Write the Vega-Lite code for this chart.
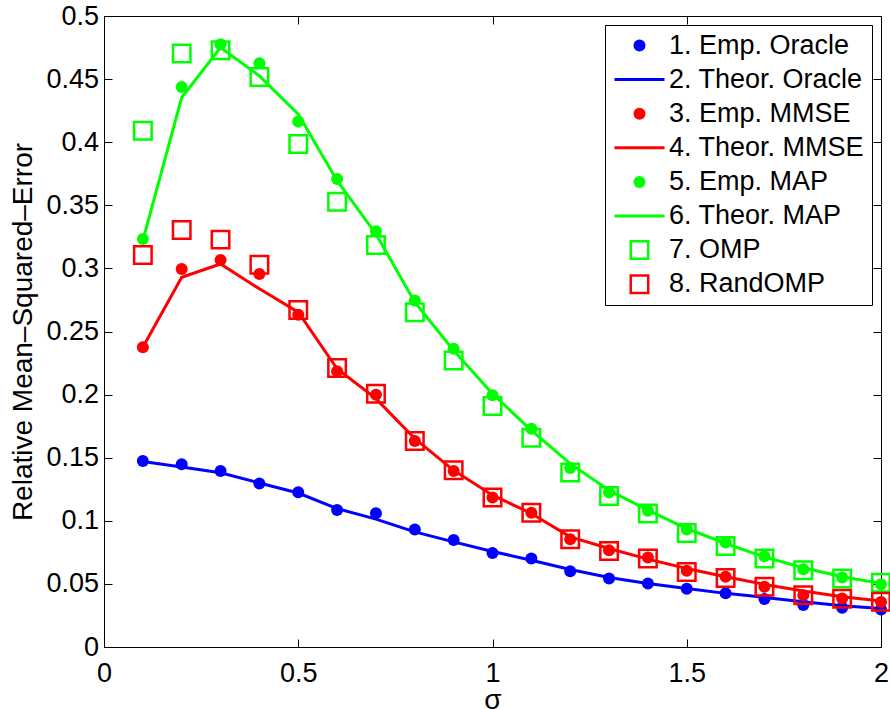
{
  "$schema": "https://vega.github.io/schema/vega-lite/v6.json",
  "width": 777,
  "height": 631,
  "autosize": {"type": "none"},
  "padding": {"left": 104, "top": 16, "right": 9, "bottom": 62},
  "background": "white",
  "datasets": {
    "d": [
      {"s": 0.1, "series": "1. Emp. Oracle", "v": 0.1474}, {"s": 0.2, "series": "1. Emp. Oracle", "v": 0.1448}, {"s": 0.3, "series": "1. Emp. Oracle", "v": 0.1395}, {"s": 0.4, "series": "1. Emp. Oracle", "v": 0.1295}, {"s": 0.5, "series": "1. Emp. Oracle", "v": 0.1226}, {"s": 0.6, "series": "1. Emp. Oracle", "v": 0.1086}, {"s": 0.7, "series": "1. Emp. Oracle", "v": 0.106}, {"s": 0.8, "series": "1. Emp. Oracle", "v": 0.0931}, {"s": 0.9, "series": "1. Emp. Oracle", "v": 0.0847}, {"s": 1.0, "series": "1. Emp. Oracle", "v": 0.0745},
      {"s": 1.1, "series": "1. Emp. Oracle", "v": 0.0701}, {"s": 1.2, "series": "1. Emp. Oracle", "v": 0.0601}, {"s": 1.3, "series": "1. Emp. Oracle", "v": 0.0543}, {"s": 1.4, "series": "1. Emp. Oracle", "v": 0.0504}, {"s": 1.5, "series": "1. Emp. Oracle", "v": 0.0461}, {"s": 1.6, "series": "1. Emp. Oracle", "v": 0.0425}, {"s": 1.7, "series": "1. Emp. Oracle", "v": 0.038}, {"s": 1.8, "series": "1. Emp. Oracle", "v": 0.0332}, {"s": 1.9, "series": "1. Emp. Oracle", "v": 0.0311}, {"s": 2.0, "series": "1. Emp. Oracle", "v": 0.0298},
      {"s": 0.1, "series": "2. Theor. Oracle", "v": 0.147}, {"s": 0.2, "series": "2. Theor. Oracle", "v": 0.1427}, {"s": 0.3, "series": "2. Theor. Oracle", "v": 0.138}, {"s": 0.4, "series": "2. Theor. Oracle", "v": 0.130}, {"s": 0.5, "series": "2. Theor. Oracle", "v": 0.122}, {"s": 0.6, "series": "2. Theor. Oracle", "v": 0.1097}, {"s": 0.7, "series": "2. Theor. Oracle", "v": 0.1013}, {"s": 0.8, "series": "2. Theor. Oracle", "v": 0.0912}, {"s": 0.9, "series": "2. Theor. Oracle", "v": 0.0833}, {"s": 1.0, "series": "2. Theor. Oracle", "v": 0.0757},
      {"s": 1.1, "series": "2. Theor. Oracle", "v": 0.0688}, {"s": 1.2, "series": "2. Theor. Oracle", "v": 0.0614}, {"s": 1.3, "series": "2. Theor. Oracle", "v": 0.0551}, {"s": 1.4, "series": "2. Theor. Oracle", "v": 0.0504}, {"s": 1.5, "series": "2. Theor. Oracle", "v": 0.0464}, {"s": 1.6, "series": "2. Theor. Oracle", "v": 0.0425}, {"s": 1.7, "series": "2. Theor. Oracle", "v": 0.0393}, {"s": 1.8, "series": "2. Theor. Oracle", "v": 0.0359}, {"s": 1.9, "series": "2. Theor. Oracle", "v": 0.0327}, {"s": 2.0, "series": "2. Theor. Oracle", "v": 0.0306},
      {"s": 0.1, "series": "3. Emp. MMSE", "v": 0.2376}, {"s": 0.2, "series": "3. Emp. MMSE", "v": 0.2996}, {"s": 0.3, "series": "3. Emp. MMSE", "v": 0.3067}, {"s": 0.4, "series": "3. Emp. MMSE", "v": 0.2956}, {"s": 0.5, "series": "3. Emp. MMSE", "v": 0.2632}, {"s": 0.6, "series": "3. Emp. MMSE", "v": 0.2186}, {"s": 0.7, "series": "3. Emp. MMSE", "v": 0.1999}, {"s": 0.8, "series": "3. Emp. MMSE", "v": 0.1632}, {"s": 0.9, "series": "3. Emp. MMSE", "v": 0.1395}, {"s": 1.0, "series": "3. Emp. MMSE", "v": 0.1184},
      {"s": 1.1, "series": "3. Emp. MMSE", "v": 0.1063}, {"s": 1.2, "series": "3. Emp. MMSE", "v": 0.0854}, {"s": 1.3, "series": "3. Emp. MMSE", "v": 0.0767}, {"s": 1.4, "series": "3. Emp. MMSE", "v": 0.071}, {"s": 1.5, "series": "3. Emp. MMSE", "v": 0.0604}, {"s": 1.6, "series": "3. Emp. MMSE", "v": 0.0556}, {"s": 1.7, "series": "3. Emp. MMSE", "v": 0.0477}, {"s": 1.8, "series": "3. Emp. MMSE", "v": 0.0411}, {"s": 1.9, "series": "3. Emp. MMSE", "v": 0.0385}, {"s": 2.0, "series": "3. Emp. MMSE", "v": 0.0356},
      {"s": 0.1, "series": "4. Theor. MMSE", "v": 0.2376}, {"s": 0.2, "series": "4. Theor. MMSE", "v": 0.293}, {"s": 0.3, "series": "4. Theor. MMSE", "v": 0.3035}, {"s": 0.4, "series": "4. Theor. MMSE", "v": 0.2838}, {"s": 0.5, "series": "4. Theor. MMSE", "v": 0.2653}, {"s": 0.6, "series": "4. Theor. MMSE", "v": 0.2205}, {"s": 0.7, "series": "4. Theor. MMSE", "v": 0.1968}, {"s": 0.8, "series": "4. Theor. MMSE", "v": 0.1651}, {"s": 0.9, "series": "4. Theor. MMSE", "v": 0.14}, {"s": 1.0, "series": "4. Theor. MMSE", "v": 0.1203},
      {"s": 1.1, "series": "4. Theor. MMSE", "v": 0.1058}, {"s": 1.2, "series": "4. Theor. MMSE", "v": 0.0873}, {"s": 1.3, "series": "4. Theor. MMSE", "v": 0.0781}, {"s": 1.4, "series": "4. Theor. MMSE", "v": 0.0696}, {"s": 1.5, "series": "4. Theor. MMSE", "v": 0.0622}, {"s": 1.6, "series": "4. Theor. MMSE", "v": 0.0556}, {"s": 1.7, "series": "4. Theor. MMSE", "v": 0.0496}, {"s": 1.8, "series": "4. Theor. MMSE", "v": 0.0443}, {"s": 1.9, "series": "4. Theor. MMSE", "v": 0.0398}, {"s": 2.0, "series": "4. Theor. MMSE", "v": 0.0364},
      {"s": 0.1, "series": "5. Emp. MAP", "v": 0.3233}, {"s": 0.2, "series": "5. Emp. MAP", "v": 0.4438}, {"s": 0.3, "series": "5. Emp. MAP", "v": 0.4776}, {"s": 0.4, "series": "5. Emp. MAP", "v": 0.4626}, {"s": 0.5, "series": "5. Emp. MAP", "v": 0.4164}, {"s": 0.6, "series": "5. Emp. MAP", "v": 0.3708}, {"s": 0.7, "series": "5. Emp. MAP", "v": 0.3294}, {"s": 0.8, "series": "5. Emp. MAP", "v": 0.2745}, {"s": 0.9, "series": "5. Emp. MAP", "v": 0.2363}, {"s": 1.0, "series": "5. Emp. MAP", "v": 0.1994},
      {"s": 1.1, "series": "5. Emp. MAP", "v": 0.173}, {"s": 1.2, "series": "5. Emp. MAP", "v": 0.1419}, {"s": 1.3, "series": "5. Emp. MAP", "v": 0.1224}, {"s": 1.4, "series": "5. Emp. MAP", "v": 0.1079}, {"s": 1.5, "series": "5. Emp. MAP", "v": 0.0931}, {"s": 1.6, "series": "5. Emp. MAP", "v": 0.0828}, {"s": 1.7, "series": "5. Emp. MAP", "v": 0.072}, {"s": 1.8, "series": "5. Emp. MAP", "v": 0.0617}, {"s": 1.9, "series": "5. Emp. MAP", "v": 0.0551}, {"s": 2.0, "series": "5. Emp. MAP", "v": 0.0498},
      {"s": 0.1, "series": "6. Theor. MAP", "v": 0.322}, {"s": 0.2, "series": "6. Theor. MAP", "v": 0.4354}, {"s": 0.3, "series": "6. Theor. MAP", "v": 0.475}, {"s": 0.4, "series": "6. Theor. MAP", "v": 0.4525}, {"s": 0.5, "series": "6. Theor. MAP", "v": 0.4222}, {"s": 0.6, "series": "6. Theor. MAP", "v": 0.3695}, {"s": 0.7, "series": "6. Theor. MAP", "v": 0.3273}, {"s": 0.8, "series": "6. Theor. MAP", "v": 0.2732}, {"s": 0.9, "series": "6. Theor. MAP", "v": 0.235}, {"s": 1.0, "series": "6. Theor. MAP", "v": 0.2007},
      {"s": 1.1, "series": "6. Theor. MAP", "v": 0.1717}, {"s": 1.2, "series": "6. Theor. MAP", "v": 0.1453}, {"s": 1.3, "series": "6. Theor. MAP", "v": 0.1242}, {"s": 1.4, "series": "6. Theor. MAP", "v": 0.1084}, {"s": 1.5, "series": "6. Theor. MAP", "v": 0.0939}, {"s": 1.6, "series": "6. Theor. MAP", "v": 0.082}, {"s": 1.7, "series": "6. Theor. MAP", "v": 0.0714}, {"s": 1.8, "series": "6. Theor. MAP", "v": 0.0628}, {"s": 1.9, "series": "6. Theor. MAP", "v": 0.0556}, {"s": 2.0, "series": "6. Theor. MAP", "v": 0.0504},
      {"s": 0.1, "series": "7. OMP", "v": 0.409}, {"s": 0.2, "series": "7. OMP", "v": 0.4702}, {"s": 0.3, "series": "7. OMP", "v": 0.4729}, {"s": 0.4, "series": "7. OMP", "v": 0.4517}, {"s": 0.5, "series": "7. OMP", "v": 0.3985}, {"s": 0.6, "series": "7. OMP", "v": 0.3529}, {"s": 0.7, "series": "7. OMP", "v": 0.3186}, {"s": 0.8, "series": "7. OMP", "v": 0.2653}, {"s": 0.9, "series": "7. OMP", "v": 0.2271}, {"s": 1.0, "series": "7. OMP", "v": 0.1909},
      {"s": 1.1, "series": "7. OMP", "v": 0.1659}, {"s": 1.2, "series": "7. OMP", "v": 0.1382}, {"s": 1.3, "series": "7. OMP", "v": 0.1197}, {"s": 1.4, "series": "7. OMP", "v": 0.1058}, {"s": 1.5, "series": "7. OMP", "v": 0.0904}, {"s": 1.6, "series": "7. OMP", "v": 0.0801}, {"s": 1.7, "series": "7. OMP", "v": 0.0702}, {"s": 1.8, "series": "7. OMP", "v": 0.0609}, {"s": 1.9, "series": "7. OMP", "v": 0.0543}, {"s": 2.0, "series": "7. OMP", "v": 0.0509},
      {"s": 0.1, "series": "8. RandOMP", "v": 0.3107}, {"s": 0.2, "series": "8. RandOMP", "v": 0.3304}, {"s": 0.3, "series": "8. RandOMP", "v": 0.3228}, {"s": 0.4, "series": "8. RandOMP", "v": 0.3028}, {"s": 0.5, "series": "8. RandOMP", "v": 0.2671}, {"s": 0.6, "series": "8. RandOMP", "v": 0.221}, {"s": 0.7, "series": "8. RandOMP", "v": 0.2007}, {"s": 0.8, "series": "8. RandOMP", "v": 0.1632}, {"s": 0.9, "series": "8. RandOMP", "v": 0.14}, {"s": 1.0, "series": "8. RandOMP", "v": 0.1184},
      {"s": 1.1, "series": "8. RandOMP", "v": 0.1063}, {"s": 1.2, "series": "8. RandOMP", "v": 0.0854}, {"s": 1.3, "series": "8. RandOMP", "v": 0.076}, {"s": 1.4, "series": "8. RandOMP", "v": 0.0702}, {"s": 1.5, "series": "8. RandOMP", "v": 0.0594}, {"s": 1.6, "series": "8. RandOMP", "v": 0.0546}, {"s": 1.7, "series": "8. RandOMP", "v": 0.0477}, {"s": 1.8, "series": "8. RandOMP", "v": 0.0411}, {"s": 1.9, "series": "8. RandOMP", "v": 0.0382}, {"s": 2.0, "series": "8. RandOMP", "v": 0.0359}
    ]
  },
  "data": {"name": "d"},
  "encoding": {
    "x": {
      "field": "s", "type": "quantitative",
      "scale": {"domain": [0, 2], "nice": false, "zero": false},
      "axis": {"orient": "bottom", "title": "σ", "values": [0, 0.5, 1, 1.5, 2], "format": "~g", "labelPadding": 21, "titleBaseline": "alphabetic", "titlePadding": 22, "titleFont": "Liberation Sans", "titleFontSize": 28}
    },
    "y": {
      "field": "v", "type": "quantitative",
      "scale": {"domain": [0, 0.5], "nice": false, "zero": false},
      "axis": {"orient": "left", "title": "Relative Mean–Squared–Error", "values": [0, 0.05, 0.1, 0.15, 0.2, 0.25, 0.3, 0.35, 0.4, 0.45, 0.5], "format": "~g", "labelPadding": 13.5, "titleBaseline": "alphabetic", "titlePadding": 14, "titleFontSize": 28}
    },
    "color": {
      "field": "series", "type": "nominal",
      "scale": {
        "domain": ["1. Emp. Oracle", "2. Theor. Oracle", "3. Emp. MMSE", "4. Theor. MMSE", "5. Emp. MAP", "6. Theor. MAP", "7. OMP", "8. RandOMP"],
        "range": ["#0000ff", "#0000ff", "#ff0000", "#ff0000", "#00ff00", "#00ff00", "#00ff00", "#ff0000"]
      },
      "legend": {
        "title": null,
        "orient": "top-right",
        "offset": 9,
        "padding": 7,
        "fillColor": "white",
        "strokeColor": "black",
        "cornerRadius": 0,
        "labelFont": "Liberation Sans",
        "labelFontSize": 27,
        "labelColor": "black",
        "labelLimit": 400,
        "labelOffset": 16,
        "symbolOffset": 14,
        "rowPadding": 6.1,
        "clipHeight": 27,
        "symbolType": "stroke",
        "symbolSize": 2500,
        "symbolStrokeWidth": 3,
        "symbolOpacity": 1,
        "encoding": {
          "symbols": {
            "shape": {"value": {"expr": "indexof(['2. Theor. Oracle','4. Theor. MMSE','6. Theor. MAP'], datum.value) >= 0 ? 'stroke' : (indexof(['7. OMP','8. RandOMP'], datum.value) >= 0 ? 'square' : 'circle')"}},
            "size": {"value": {"expr": "indexof(['2. Theor. Oracle','4. Theor. MMSE','6. Theor. MAP'], datum.value) >= 0 ? 2500 : (indexof(['7. OMP','8. RandOMP'], datum.value) >= 0 ? 306 : 144)"}},
            "fill": {"value": {"expr": "scale('color', datum.value)"}},
            "fillOpacity": {"value": {"expr": "indexof(['1. Emp. Oracle','3. Emp. MMSE','5. Emp. MAP'], datum.value) >= 0 ? 1 : 0"}},
            "stroke": {"value": {"expr": "scale('color', datum.value)"}},
            "strokeOpacity": {"value": {"expr": "indexof(['1. Emp. Oracle','3. Emp. MMSE','5. Emp. MAP'], datum.value) >= 0 ? 0 : 1"}},
            "strokeWidth": {"value": {"expr": "indexof(['2. Theor. Oracle','4. Theor. MMSE','6. Theor. MAP'], datum.value) >= 0 ? 3 : 2.5"}},
            "opacity": {"value": 1}
          }
        }
      }
    }
  },
  "layer": [
    {
      "transform": [{"filter": "indexof(['2. Theor. Oracle','4. Theor. MMSE','6. Theor. MAP'], datum.series) >= 0"}],
      "mark": {"type": "line", "strokeWidth": 3, "opacity": 1}
    },
    {
      "transform": [{"filter": "indexof(['1. Emp. Oracle','3. Emp. MMSE','5. Emp. MAP'], datum.series) >= 0"}],
      "mark": {"type": "point", "shape": "circle", "filled": true, "size": 144, "opacity": 1, "strokeWidth": 0},
      "encoding": {
        "x": {"field": "s", "type": "quantitative", "axis": null},
        "y": {"field": "v", "type": "quantitative", "axis": null}
      }
    },
    {
      "transform": [{"filter": "indexof(['7. OMP','8. RandOMP'], datum.series) >= 0"}],
      "mark": {"type": "point", "shape": "square", "filled": false, "size": 306, "strokeWidth": 2.5, "opacity": 1},
      "encoding": {
        "x": {"field": "s", "type": "quantitative", "axis": {"orient": "top", "labels": false, "title": null, "values": [0, 0.5, 1, 1.5, 2]}},
        "y": {"field": "v", "type": "quantitative", "axis": {"orient": "right", "labels": false, "title": null, "values": [0, 0.05, 0.1, 0.15, 0.2, 0.25, 0.3, 0.35, 0.4, 0.45, 0.5]}}
      }
    }
  ],
  "resolve": {"axis": {"x": "independent", "y": "independent"}},
  "config": {
    "view": {"stroke": "black", "strokeWidth": 1},
    "axis": {
      "grid": false,
      "domain": false,
      "ticks": true,
      "tickSize": -8,
      "tickColor": "black",
      "tickWidth": 1,
      "labelFont": "Liberation Sans",
      "labelFontSize": 27,
      "labelColor": "black",
      "labelFlush": false,
      "labelOverlap": false,
      "titleFont": "Liberation Sans",
      "titleFontSize": 28,
      "titleFontWeight": "normal",
      "titleColor": "black"
    }
  }
}
